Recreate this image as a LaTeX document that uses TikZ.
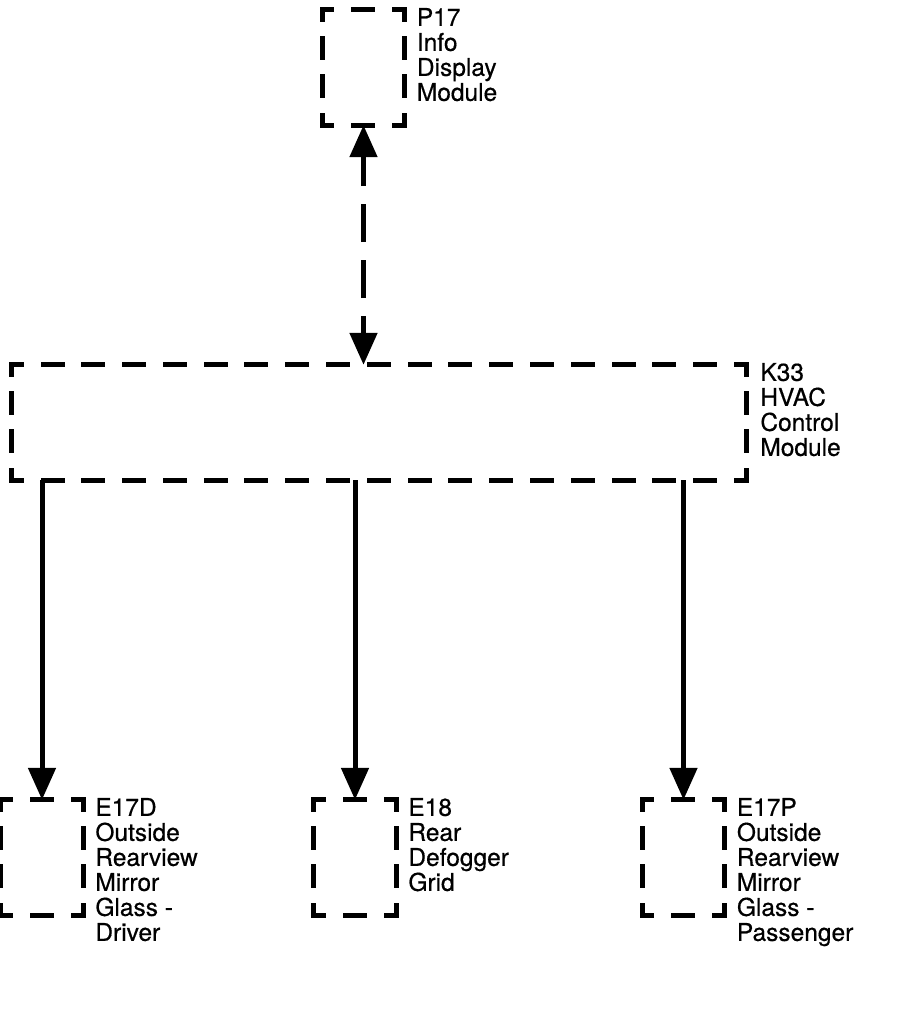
\documentclass[tikz,border=0pt]{standalone}
\usepackage{fontspec}
\setmainfont{TeX Gyre Heros}[FakeBold=0.5]
\usetikzlibrary{arrows.meta}

\tikzset{
  >={Triangle[length=32pt,width=27pt]},
  module/.style={inner sep=0pt, minimum width=82pt, minimum height=115pt},
  hside/.style={line width=5pt, line cap=rect, dash pattern=on 19pt off 22pt, dash phase=9.5pt},
  vside/.style={line width=5pt, line cap=rect, dash pattern=on 19pt off 19.33pt, dash phase=9.5pt},
  modname/.style={align=left, anchor=north west, inner sep=0pt,
    font=\fontsize{24.5}{25}\selectfont},
  wire/.style={line width=5pt, ->},
}

% dashed outline with a half dash on every corner
\newcommand{\modframe}[2][22pt]{%
  \draw[hside, dash pattern=on 19pt off #1] (#2.north west) -- (#2.north east);
  \draw[hside, dash pattern=on 19pt off #1] (#2.south west) -- (#2.south east);
  \draw[vside] (#2.north west) -- (#2.south west);
  \draw[vside] (#2.north east) -- (#2.south east);
}

\begin{document}
\begin{tikzpicture}[x=1pt,y=-1pt]
\useasboundingbox (0,0) rectangle (904,1014);

\node[module] (p17) at (363.5,67.5) {};
\modframe{p17}
\node[modname] (p17txt) at ([shift={(12,-2)}]p17.north east) {P17\\Info\\Display\\Module};

\node[module, minimum width=734pt] (k33) at (379,422.5) {};
\modframe[21.78pt]{k33}
\node[modname] (k33txt) at ([shift={(14,-2)}]k33.north east) {K33\\HVAC\\Control\\Module};

\node[module] (e17d) at (42,857.5) {};
\modframe{e17d}
\node[modname] (e17dtxt) at ([shift={(12,-2)}]e17d.north east) {E17D\\Outside\\Rearview\\Mirror\\Glass -\\Driver};

\node[module] (e18) at (355,857.5) {};
\modframe{e18}
\node[modname] (e18txt) at ([shift={(12,-2)}]e18.north east) {E18\\Rear\\Defogger\\Grid};

\node[module] (e17p) at (683.5,857.5) {};
\modframe{e17p}
\node[modname] (e17ptxt) at ([shift={(12,-2)}]e17p.north east) {E17P\\Outside\\Rearview\\Mirror\\Glass -\\Passenger};

% serial data link
\draw[wire, <->, dash pattern=on 38pt off 18pt, dash phase=20pt] (k33.north -| p17.south) -- (p17.south);

% outputs
\draw[wire] (k33.south -| e17d.north) -- (e17d.north);
\draw[wire] (k33.south -| e18.north) -- (e18.north);
\draw[wire] (k33.south -| e17p.north) -- (e17p.north);

\end{tikzpicture}
\end{document}
